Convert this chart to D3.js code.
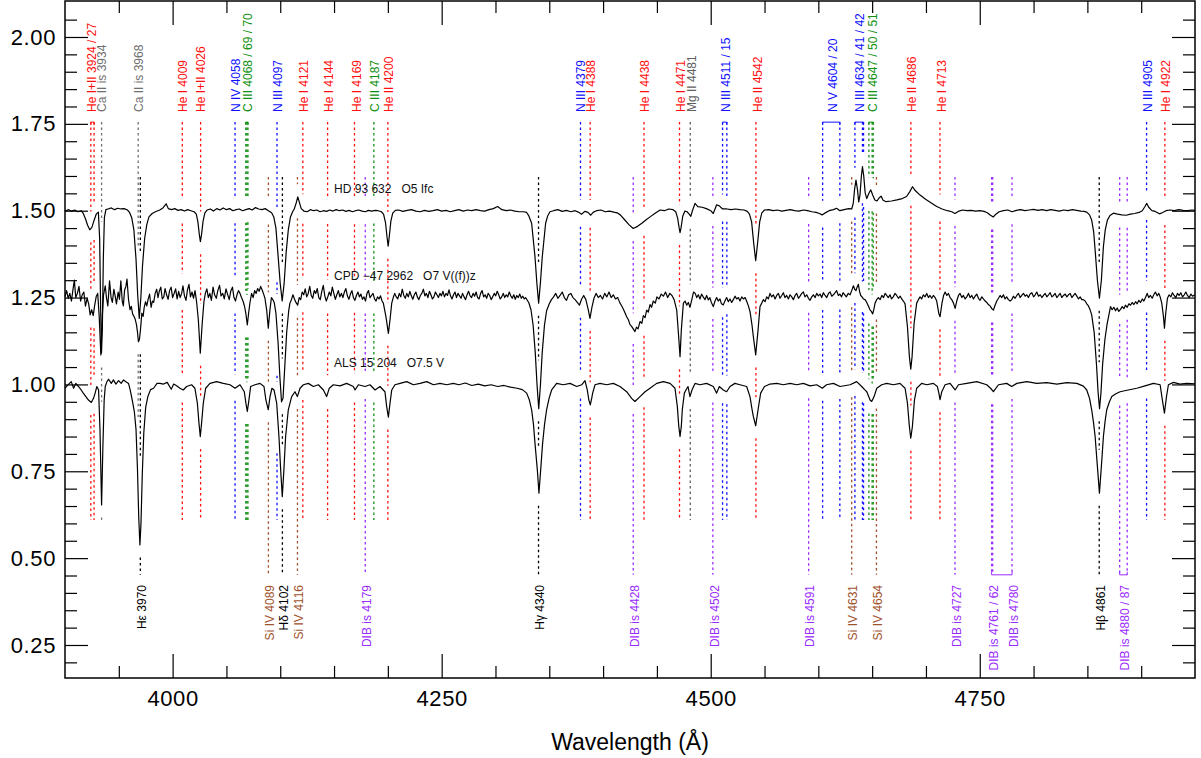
<!DOCTYPE html>
<html><head><meta charset="utf-8">
<script src="https://cdn.jsdelivr.net/npm/d3@7"></script>
<style>
html,body{margin:0;padding:0;background:#fff;}
svg{display:block;font-family:"Liberation Sans",Arial,Helvetica,sans-serif;}
</style></head><body>
<svg id="chart" width="1201" height="758"></svg>
<script>
// ---------------- DATA ----------------
const xDomain = [3900, 4950];
const yDomain = [0.155, 2.1036];
const xMajorTicks = [4000, 4250, 4500, 4750];
const xMinorTicks = [3950,4050,4100,4150,4200,4300,4350,4400,4450,4550,4600,4650,4700,4800,4850,4900];
const yMajorTicks = [0.25, 0.50, 0.75, 1.00, 1.25, 1.50, 1.75, 2.00];
const yMinorTicks = [0.20,0.30,0.35,0.40,0.45,0.55,0.60,0.65,0.70,0.80,0.85,0.90,0.95,1.05,1.10,1.15,1.20,1.30,1.35,1.40,1.45,1.55,1.60,1.65,1.70,1.80,1.85,1.90,1.95,2.05];
const xTitle = "Wavelength (\u00C5)";

const starNames = ["HD 93 632", "CPD \u221247 2962", "ALS 15 204"];
const starTypes = ["O5 Ifc", "O7 V((f))z", "O7.5 V"];
const starOffsets = [1.50, 1.25, 1.00];

const hd93632 = [[3900,1.498],[3903,1.503],[3906,1.499],[3909,1.502],[3912,1.497],[3915,1.500],[3917,1.492],[3919,1.477],[3921,1.458],[3923,1.445],[3925,1.452],[3927,1.472],[3929,1.490],[3931,1.496],[3932.2,1.42],[3933.1,1.22],[3933.9,1.09],[3934.7,1.16],[3935.6,1.36],[3936.6,1.48],[3938,1.503],[3940,1.505],[3943,1.508],[3946,1.503],[3949,1.507],[3952,1.505],[3955,1.506],[3958,1.502],[3960,1.495],[3962,1.480],[3964,1.445],[3966,1.36],[3967.5,1.26],[3969,1.19],[3970.5,1.25],[3972,1.34],[3974,1.42],[3976,1.46],[3978,1.482],[3981,1.492],[3984,1.497],[3988,1.502],[3991,1.508],[3994,1.520],[3996,1.506],[3999,1.503],[4002,1.506],[4005,1.501],[4008,1.503],[4011,1.499],[4014,1.503],[4017,1.500],[4020,1.497],[4022,1.490],[4023.5,1.468],[4024.8,1.432],[4025.8,1.411],[4026.9,1.432],[4028.3,1.470],[4030,1.494],[4032,1.502],[4035,1.505],[4038,1.499],[4041,1.506],[4044,1.502],[4047,1.508],[4050,1.503],[4053,1.506],[4056,1.500],[4059,1.503],[4062,1.505],[4065,1.500],[4068,1.503],[4071,1.506],[4074,1.502],[4077,1.509],[4080,1.505],[4083,1.503],[4086,1.506],[4089,1.500],[4092,1.494],[4094,1.482],[4096,1.450],[4098,1.37],[4100,1.29],[4101.8,1.24],[4103.6,1.29],[4105.5,1.38],[4107.5,1.445],[4109.5,1.482],[4111.5,1.497],[4113,1.505],[4114.8,1.522],[4116.3,1.540],[4117.8,1.524],[4119.5,1.506],[4122,1.499],[4125,1.497],[4128,1.503],[4131,1.500],[4134,1.502],[4137,1.497],[4140,1.500],[4143,1.498],[4146,1.502],[4149,1.499],[4152,1.503],[4155,1.500],[4158,1.502],[4161,1.498],[4164,1.501],[4167,1.497],[4170,1.500],[4173,1.502],[4176,1.499],[4179,1.497],[4182,1.501],[4185,1.499],[4188,1.501],[4191,1.500],[4194,1.497],[4196,1.490],[4197.8,1.466],[4199.2,1.425],[4200.3,1.398],[4201.4,1.428],[4202.8,1.470],[4204.5,1.493],[4207,1.501],[4210,1.502],[4214,1.498],[4218,1.501],[4222,1.503],[4226,1.499],[4230,1.497],[4234,1.501],[4238,1.498],[4242,1.500],[4246,1.503],[4250,1.499],[4254,1.501],[4258,1.497],[4262,1.500],[4266,1.503],[4270,1.499],[4274,1.502],[4278,1.500],[4282,1.503],[4286,1.500],[4290,1.499],[4294,1.503],[4298,1.506],[4302,1.512],[4306,1.503],[4310,1.500],[4314,1.502],[4318,1.499],[4322,1.497],[4326,1.497],[4329,1.495],[4331,1.485],[4333.6,1.464],[4336.7,1.368],[4338.5,1.29],[4340.1,1.234],[4341.7,1.29],[4343.5,1.368],[4346.6,1.464],[4348.5,1.485],[4350.6,1.497],[4354,1.500],[4358,1.503],[4362,1.498],[4366,1.501],[4370,1.497],[4374,1.500],[4377,1.496],[4380,1.490],[4383,1.498],[4386,1.495],[4388.5,1.487],[4391,1.496],[4394,1.500],[4398,1.502],[4402,1.497],[4406,1.499],[4410,1.496],[4413,1.494],[4416,1.488],[4420,1.474],[4424,1.460],[4428,1.449],[4432,1.455],[4436,1.464],[4440,1.474],[4444,1.483],[4448,1.492],[4453,1.502],[4457,1.500],[4461,1.505],[4465,1.503],[4467.5,1.497],[4469.3,1.478],[4470.6,1.452],[4471.5,1.437],[4472.5,1.452],[4474,1.484],[4476,1.499],[4478,1.497],[4480,1.490],[4481.5,1.484],[4483,1.500],[4485.4,1.521],[4488,1.512],[4492,1.510],[4496,1.506],[4500,1.500],[4502.4,1.492],[4505.5,1.517],[4508,1.514],[4511,1.505],[4515,1.505],[4519,1.503],[4523,1.505],[4527,1.503],[4531,1.502],[4534,1.498],[4536,1.490],[4538,1.468],[4540,1.405],[4541.8,1.356],[4543.5,1.405],[4545.5,1.468],[4547.5,1.494],[4550,1.502],[4554,1.503],[4558,1.500],[4562,1.502],[4566,1.499],[4570,1.501],[4574,1.503],[4578,1.500],[4582,1.499],[4586,1.502],[4590,1.500],[4594,1.497],[4598,1.495],[4601,1.492],[4603.5,1.488],[4606,1.493],[4610,1.500],[4614,1.503],[4617,1.507],[4620,1.500],[4624,1.503],[4628,1.506],[4631,1.505],[4632.5,1.522],[4633.7,1.562],[4635,1.588],[4636.4,1.560],[4637.5,1.525],[4638.7,1.545],[4640,1.600],[4641,1.627],[4642.2,1.600],[4643.5,1.552],[4645,1.535],[4647,1.550],[4648.7,1.560],[4650.5,1.545],[4652.5,1.531],[4654.5,1.528],[4656.5,1.537],[4658.3,1.542],[4660.2,1.530],[4663,1.526],[4668,1.528],[4673,1.531],[4678,1.535],[4682,1.541],[4685,1.555],[4687.5,1.569],[4690,1.558],[4694.5,1.545],[4700,1.532],[4705,1.522],[4710,1.512],[4715,1.505],[4720,1.500],[4724,1.497],[4727,1.492],[4730,1.498],[4734,1.502],[4738,1.500],[4742,1.501],[4746,1.499],[4750,1.500],[4754,1.498],[4757,1.494],[4760,1.487],[4762.5,1.482],[4765,1.490],[4768,1.497],[4772,1.500],[4776,1.502],[4780,1.497],[4784,1.501],[4788,1.503],[4792,1.500],[4796,1.502],[4800,1.504],[4804,1.501],[4808,1.503],[4812,1.500],[4816,1.503],[4820,1.501],[4824,1.499],[4828,1.502],[4832,1.500],[4836,1.503],[4840,1.501],[4844,1.499],[4847,1.498],[4849.4,1.496],[4852,1.488],[4854,1.473],[4855.8,1.44],[4857.2,1.387],[4859.3,1.30],[4861.2,1.248],[4863,1.30],[4864.9,1.397],[4866.6,1.445],[4868.6,1.473],[4871,1.486],[4874.2,1.493],[4878,1.490],[4882,1.488],[4886,1.487],[4890,1.490],[4894,1.492],[4898,1.495],[4901,1.500],[4903.5,1.512],[4905.2,1.521],[4907,1.510],[4910,1.500],[4913,1.498],[4917,1.491],[4920,1.495],[4923,1.500],[4927,1.502],[4931,1.500],[4935,1.503],[4939,1.501],[4943,1.500],[4947,1.502],[4950,1.501]];

const cpd472962 = [[3900,1.253],[3901.5,1.270],[3903,1.248],[3904.5,1.262],[3906,1.240],[3907.5,1.275],[3908.7,1.300],[3910,1.250],[3911.5,1.262],[3913,1.282],[3914.5,1.240],[3916,1.258],[3917.5,1.266],[3919,1.225],[3920.5,1.248],[3922,1.232],[3923.4,1.200],[3924.8,1.215],[3926.2,1.198],[3927.6,1.228],[3929,1.253],[3930.4,1.262],[3931.8,1.195],[3933.3,1.085],[3934.8,1.205],[3935.8,1.258],[3937.4,1.284],[3938.6,1.248],[3939.8,1.226],[3941.4,1.298],[3942.8,1.250],[3944,1.236],[3945.4,1.274],[3946.6,1.255],[3947.8,1.232],[3949.4,1.266],[3950.6,1.245],[3951.9,1.298],[3953.2,1.240],[3954.2,1.226],[3955.4,1.272],[3956.6,1.282],[3957.6,1.303],[3959,1.245],[3960.4,1.215],[3961.6,1.225],[3962.8,1.203],[3964,1.196],[3965.2,1.188],[3966.4,1.172],[3967.4,1.150],[3968.2,1.123],[3969.2,1.130],[3970.2,1.160],[3971.4,1.205],[3972.6,1.196],[3973.6,1.222],[3974.8,1.238],[3976,1.226],[3977.2,1.245],[3978.6,1.260],[3980,1.222],[3981.2,1.240],[3982.4,1.236],[3983.8,1.262],[3985.2,1.274],[3986.4,1.250],[3987.6,1.268],[3989,1.280],[3990.4,1.246],[3991.8,1.252],[3993,1.276],[3994.4,1.258],[3995.8,1.245],[3997.2,1.270],[3998.6,1.280],[4000,1.250],[4001.4,1.262],[4002.8,1.275],[4004.2,1.246],[4005.6,1.268],[4007,1.250],[4008.4,1.262],[4009.6,1.284],[4011,1.255],[4012.4,1.242],[4013.8,1.272],[4015.2,1.288],[4016.6,1.252],[4018,1.266],[4019.4,1.248],[4020.8,1.270],[4022.2,1.240],[4023.9,1.186],[4025.7,1.090],[4027.5,1.176],[4029.1,1.238],[4030.4,1.262],[4031.8,1.275],[4033.2,1.250],[4034.6,1.262],[4036,1.242],[4037.6,1.280],[4039,1.258],[4040.6,1.248],[4042,1.270],[4043.6,1.285],[4045,1.255],[4046.6,1.262],[4048,1.246],[4049.6,1.275],[4051,1.260],[4052.6,1.244],[4054,1.268],[4055.6,1.280],[4057,1.250],[4058.4,1.240],[4059.8,1.258],[4061.2,1.270],[4062.6,1.262],[4064,1.250],[4065.4,1.240],[4066.8,1.225],[4068,1.205],[4069.4,1.171],[4070.8,1.210],[4072,1.238],[4073.4,1.262],[4074.8,1.250],[4076.2,1.270],[4077.6,1.262],[4079,1.276],[4080.4,1.268],[4081.8,1.282],[4083.2,1.272],[4084.6,1.260],[4085.8,1.248],[4087.4,1.214],[4088.9,1.162],[4090.4,1.214],[4091.8,1.250],[4093.2,1.244],[4094.4,1.236],[4096,1.205],[4098,1.12],[4099.7,1.02],[4101.2,0.95],[4102.6,0.96],[4104.2,1.05],[4106,1.15],[4107.8,1.21],[4109,1.234],[4110.4,1.244],[4111.8,1.258],[4113.2,1.246],[4114.6,1.236],[4116.2,1.228],[4117.6,1.250],[4119,1.244],[4120.4,1.266],[4121.8,1.258],[4123.2,1.275],[4124.6,1.252],[4126,1.262],[4127.4,1.282],[4128.8,1.256],[4130.2,1.248],[4131.6,1.270],[4133,1.262],[4134.4,1.276],[4135.8,1.250],[4137.2,1.244],[4138.6,1.268],[4140,1.285],[4141.4,1.255],[4142.8,1.240],[4144.2,1.252],[4145.6,1.266],[4147,1.255],[4148.4,1.280],[4149.8,1.262],[4151.2,1.245],[4152.6,1.258],[4154,1.270],[4155.4,1.252],[4156.8,1.262],[4158.2,1.250],[4159.6,1.266],[4161,1.276],[4162.4,1.255],[4163.8,1.245],[4165.2,1.260],[4166.6,1.270],[4168,1.250],[4169.4,1.242],[4170.8,1.256],[4172.2,1.266],[4173.6,1.252],[4175,1.260],[4176.4,1.245],[4177.8,1.252],[4179.2,1.240],[4180.6,1.262],[4182,1.270],[4183.4,1.250],[4184.8,1.256],[4186.2,1.262],[4187.6,1.246],[4189,1.240],[4190.4,1.252],[4191.8,1.246],[4193.2,1.255],[4194.6,1.240],[4195.8,1.234],[4198.2,1.195],[4200.5,1.147],[4202,1.186],[4203.6,1.234],[4205,1.250],[4206.4,1.262],[4207.8,1.252],[4209.2,1.246],[4210.6,1.262],[4212,1.252],[4213.4,1.274],[4214.8,1.256],[4216.2,1.248],[4217.6,1.262],[4219,1.252],[4220.4,1.268],[4221.8,1.255],[4223.2,1.245],[4224.6,1.258],[4226,1.266],[4227.4,1.252],[4228.8,1.244],[4230.2,1.256],[4231.6,1.262],[4233,1.274],[4234.4,1.255],[4235.8,1.262],[4237.2,1.250],[4238.6,1.268],[4240,1.258],[4241.4,1.246],[4242.8,1.252],[4244.2,1.266],[4245.6,1.258],[4247,1.250],[4248.4,1.262],[4249.8,1.255],[4251.2,1.268],[4252.6,1.252],[4254,1.262],[4255.4,1.256],[4256.8,1.272],[4258.2,1.255],[4259.6,1.246],[4261,1.258],[4262.4,1.266],[4263.8,1.250],[4265.2,1.262],[4266.6,1.255],[4268,1.248],[4269.4,1.262],[4270.8,1.252],[4272.2,1.244],[4273.6,1.258],[4275,1.268],[4276.4,1.255],[4277.8,1.250],[4279.2,1.262],[4280.6,1.254],[4282,1.266],[4283.4,1.250],[4284.8,1.246],[4286.2,1.262],[4287.6,1.270],[4289,1.252],[4290.4,1.258],[4291.8,1.248],[4293.2,1.262],[4294.6,1.256],[4296,1.244],[4297.4,1.252],[4298.8,1.262],[4300.2,1.255],[4301.6,1.268],[4303,1.258],[4304.4,1.246],[4305.8,1.252],[4307.2,1.262],[4308.6,1.250],[4310,1.258],[4311.4,1.252],[4312.8,1.266],[4314.2,1.255],[4315.6,1.248],[4317,1.258],[4318.4,1.245],[4319.8,1.256],[4321.2,1.250],[4322.6,1.260],[4324,1.248],[4325.4,1.254],[4326.8,1.246],[4328,1.250],[4329,1.245],[4331,1.235],[4333,1.215],[4335,1.170],[4337,1.090],[4338.6,1.000],[4340.2,0.930],[4341.8,1.000],[4343.4,1.090],[4345.5,1.170],[4347.5,1.212],[4350,1.232],[4352,1.244],[4354,1.252],[4356,1.262],[4358,1.248],[4360,1.256],[4362,1.266],[4364,1.250],[4366,1.242],[4368,1.258],[4370,1.262],[4372,1.250],[4374,1.244],[4376,1.236],[4378,1.228],[4380,1.245],[4382,1.256],[4384,1.244],[4386.2,1.215],[4387.8,1.190],[4389.5,1.220],[4391.5,1.248],[4393.5,1.262],[4395.5,1.250],[4397.5,1.256],[4399.5,1.246],[4401.5,1.262],[4403.5,1.252],[4405.5,1.266],[4407.5,1.250],[4409.5,1.258],[4411.5,1.246],[4413.5,1.250],[4415.7,1.234],[4417.5,1.225],[4419.5,1.212],[4421.9,1.195],[4423.5,1.186],[4425,1.172],[4426.5,1.167],[4428,1.160],[4429.6,1.152],[4431,1.165],[4432.5,1.160],[4434.3,1.181],[4436,1.176],[4437.4,1.198],[4439,1.192],[4440.5,1.214],[4442,1.208],[4443.6,1.230],[4445,1.222],[4446.7,1.240],[4448.5,1.234],[4450,1.252],[4452,1.246],[4454,1.260],[4456,1.254],[4458,1.266],[4460,1.250],[4462,1.262],[4464,1.256],[4466,1.244],[4468.4,1.214],[4470.2,1.138],[4471.5,1.080],[4472.7,1.157],[4474.6,1.234],[4476.2,1.240],[4477.7,1.228],[4479.2,1.236],[4480.7,1.222],[4482.5,1.245],[4484,1.266],[4485.6,1.262],[4487,1.250],[4488.5,1.258],[4490,1.246],[4491.5,1.260],[4493,1.252],[4494.7,1.244],[4496.2,1.256],[4497.8,1.243],[4499.2,1.250],[4500.6,1.236],[4502.4,1.224],[4504,1.240],[4505.5,1.250],[4507,1.240],[4508.6,1.246],[4510,1.232],[4511.7,1.229],[4513.2,1.240],[4514.8,1.250],[4516.4,1.238],[4517.9,1.246],[4519.5,1.236],[4521,1.244],[4522.6,1.254],[4524.1,1.246],[4525.7,1.250],[4527.2,1.240],[4528.8,1.252],[4530.3,1.246],[4532,1.250],[4533.6,1.238],[4535,1.226],[4536.5,1.210],[4538.4,1.170],[4539.6,1.138],[4541.8,1.085],[4544,1.157],[4545.8,1.224],[4547.4,1.234],[4548.9,1.244],[4550.5,1.238],[4552,1.252],[4553.6,1.246],[4555.1,1.262],[4556.6,1.252],[4558.2,1.258],[4559.8,1.246],[4561.3,1.256],[4562.9,1.262],[4564.4,1.248],[4566,1.256],[4567.5,1.264],[4569,1.250],[4570.6,1.256],[4572.2,1.246],[4573.7,1.258],[4575.3,1.252],[4576.8,1.244],[4578.4,1.256],[4579.9,1.262],[4581.5,1.248],[4583,1.254],[4584.6,1.262],[4586.1,1.266],[4587.6,1.252],[4589.2,1.258],[4590.8,1.248],[4592.3,1.242],[4593.9,1.252],[4595.4,1.258],[4597,1.250],[4598.5,1.262],[4600,1.255],[4601.6,1.260],[4603.1,1.250],[4604.7,1.264],[4606.3,1.256],[4607.8,1.250],[4609.4,1.262],[4610.9,1.266],[4612.5,1.254],[4614,1.258],[4615.6,1.264],[4617,1.270],[4618.6,1.256],[4620,1.260],[4621.6,1.252],[4623,1.264],[4624.6,1.258],[4626,1.252],[4627.8,1.262],[4629.5,1.258],[4631,1.270],[4632.6,1.284],[4633.8,1.274],[4635,1.270],[4636,1.280],[4637.2,1.288],[4638.4,1.266],[4639.4,1.256],[4640.6,1.252],[4641.9,1.246],[4643.4,1.244],[4645,1.236],[4646.5,1.226],[4648.1,1.214],[4649.3,1.210],[4650.5,1.203],[4651.6,1.216],[4652.7,1.234],[4654.2,1.244],[4655.8,1.250],[4657.4,1.244],[4659,1.256],[4660.6,1.250],[4662,1.262],[4663.5,1.256],[4665,1.250],[4666.6,1.258],[4668,1.246],[4669.6,1.252],[4671.2,1.262],[4672.8,1.256],[4674.4,1.248],[4676,1.254],[4677.5,1.246],[4679,1.240],[4680.6,1.232],[4682.8,1.166],[4684.6,1.080],[4685.9,1.044],[4687.1,1.080],[4689,1.176],[4691.4,1.234],[4693,1.244],[4694.5,1.252],[4696,1.246],[4697.6,1.258],[4699.2,1.252],[4700.7,1.262],[4702.3,1.250],[4703.8,1.256],[4705.4,1.248],[4706.9,1.256],[4708.5,1.250],[4710,1.240],[4711.9,1.205],[4713.1,1.195],[4714.9,1.234],[4716.4,1.256],[4717.8,1.266],[4719.4,1.256],[4720.9,1.262],[4722.4,1.250],[4724,1.244],[4725.6,1.234],[4727.1,1.219],[4728.6,1.240],[4730.2,1.256],[4731.7,1.262],[4733.3,1.250],[4734.8,1.256],[4736.4,1.246],[4737.9,1.252],[4739.5,1.262],[4741,1.250],[4742.6,1.256],[4744.1,1.246],[4745.7,1.254],[4747.2,1.260],[4748.8,1.248],[4750.3,1.242],[4751.9,1.252],[4753.4,1.246],[4755,1.240],[4756.5,1.236],[4758,1.230],[4759.6,1.226],[4761.2,1.218],[4762.7,1.214],[4764.2,1.228],[4765.8,1.240],[4767.4,1.248],[4768.9,1.256],[4770.4,1.250],[4772,1.258],[4773.5,1.246],[4775,1.252],[4776.6,1.244],[4778.2,1.240],[4779.7,1.244],[4781.2,1.254],[4782.8,1.248],[4784.4,1.256],[4786,1.262],[4787.5,1.250],[4789,1.256],[4790.6,1.262],[4792.2,1.254],[4793.7,1.258],[4795.2,1.250],[4796.8,1.260],[4798.4,1.264],[4800,1.252],[4801.5,1.258],[4803,1.266],[4804.6,1.254],[4806.2,1.258],[4807.7,1.250],[4809.2,1.256],[4810.8,1.262],[4812.3,1.252],[4813.9,1.258],[4815.4,1.264],[4817,1.252],[4818.5,1.256],[4820,1.262],[4821.6,1.250],[4823.2,1.256],[4824.7,1.262],[4826.2,1.250],[4827.8,1.256],[4829.4,1.260],[4830.9,1.252],[4832.4,1.258],[4834,1.262],[4835.6,1.250],[4837.1,1.256],[4838.6,1.262],[4840.2,1.254],[4841.8,1.246],[4843.3,1.252],[4844.8,1.244],[4846.3,1.244],[4847.9,1.240],[4849.4,1.232],[4851,1.226],[4852.6,1.214],[4854,1.200],[4856.3,1.150],[4858.4,1.060],[4860,0.975],[4861.3,0.930],[4862.6,0.975],[4864.2,1.060],[4866.3,1.130],[4868.4,1.175],[4870,1.200],[4871.5,1.224],[4873,1.215],[4874.6,1.222],[4876.2,1.212],[4877.7,1.220],[4879.2,1.210],[4880.8,1.216],[4882.4,1.224],[4883.9,1.218],[4885.4,1.228],[4887,1.222],[4888.6,1.232],[4890.1,1.228],[4891.6,1.236],[4893.2,1.230],[4894.8,1.238],[4896.3,1.232],[4897.8,1.242],[4899.4,1.236],[4901,1.246],[4902.5,1.240],[4904,1.250],[4905.6,1.262],[4907,1.250],[4908.6,1.256],[4910.2,1.248],[4911.7,1.258],[4913.2,1.266],[4914.8,1.255],[4916.4,1.262],[4917.8,1.250],[4919.1,1.234],[4920.7,1.195],[4921.6,1.162],[4922.8,1.205],[4924.4,1.248],[4926,1.258],[4927.6,1.252],[4929,1.264],[4930.6,1.256],[4932.2,1.250],[4933.7,1.262],[4935.2,1.256],[4936.8,1.264],[4938.4,1.252],[4940,1.258],[4941.5,1.266],[4943,1.256],[4944.6,1.250],[4946.2,1.260],[4947.7,1.254],[4950,1.258]];

const als15204 = [[3900,0.989],[3902.5,0.998],[3905.8,1.008],[3908,0.989],[3910,1.003],[3912.6,0.994],[3915,0.984],[3917,0.975],[3919.4,0.965],[3921.8,0.955],[3924.4,0.948],[3926.5,0.960],[3928,0.975],[3929.6,0.994],[3931.2,0.984],[3932.5,0.870],[3934,0.653],[3935.2,0.820],[3936.4,0.955],[3937.4,0.994],[3939,1.008],[3940.5,1.015],[3943,1.003],[3945,1.013],[3947.3,1.001],[3949.8,1.011],[3952.2,1.003],[3954.4,1.013],[3956.6,1.008],[3959,1.003],[3960.5,0.985],[3962.5,0.955],[3964.5,0.920],[3966,0.870],[3967.3,0.760],[3968.5,0.620],[3969.6,0.538],[3970.6,0.600],[3971.8,0.740],[3973.2,0.860],[3975,0.935],[3977,0.965],[3979.5,0.985],[3982.3,0.989],[3985.5,1.003],[3988.2,1.003],[3991.6,1.001],[3995,1.006],[3998.7,0.986],[4001,1.001],[4003.7,0.996],[4006.8,0.989],[4009.9,0.984],[4013,0.994],[4017.6,0.999],[4020.7,0.989],[4023,0.946],[4024.5,0.888],[4025.7,0.850],[4026.9,0.888],[4028.5,0.946],[4030.7,0.989],[4034.7,1.003],[4040.9,1.008],[4047.1,1.003],[4053.3,0.999],[4058,0.989],[4062.6,0.999],[4066.6,0.979],[4068.1,0.946],[4069.4,0.922],[4070.9,0.955],[4072.5,0.994],[4076.5,0.999],[4081.2,1.003],[4084.9,0.994],[4086.7,0.955],[4088.9,0.927],[4090.5,0.965],[4092.3,0.989],[4094.2,0.984],[4096.7,0.946],[4098.8,0.850],[4100.4,0.754],[4101.9,0.677],[4103.4,0.754],[4105,0.850],[4107.5,0.927],[4110.6,0.965],[4113.7,0.979],[4115.9,0.965],[4118.4,0.989],[4121.5,0.999],[4126.1,1.003],[4130.8,0.994],[4135.4,0.999],[4140.1,0.984],[4143.1,0.965],[4145.6,0.989],[4149.3,0.999],[4155.5,0.996],[4161.7,1.003],[4167.9,0.994],[4169.5,0.984],[4172.6,0.999],[4178.8,0.994],[4183.4,0.999],[4188.1,0.984],[4192.7,0.994],[4197.3,0.979],[4198.9,0.936],[4200.5,0.906],[4202,0.946],[4203.6,0.984],[4206.6,0.999],[4211.3,1.003],[4217.5,1.008],[4223.7,0.999],[4229.9,1.003],[4236.1,1.008],[4242.3,0.999],[4248.5,1.003],[4254.7,0.999],[4260.8,1.003],[4266,0.999],[4272,1.004],[4278,0.997],[4284,1.001],[4290,0.996],[4296,0.999],[4302,0.994],[4308,0.997],[4314,0.992],[4320,0.989],[4325,0.985],[4329,0.975],[4331.5,0.955],[4333.6,0.927],[4335.3,0.885],[4336.7,0.831],[4338.9,0.754],[4340.4,0.687],[4342,0.754],[4343.8,0.831],[4345.6,0.885],[4347.5,0.927],[4349.8,0.960],[4352.2,0.984],[4356.8,1.003],[4363,0.999],[4369.3,1.003],[4375.5,0.994],[4380.1,0.999],[4383.2,1.011],[4385.3,0.984],[4386.8,0.955],[4388.1,0.941],[4389.4,0.960],[4390.3,0.975],[4392.5,0.999],[4397.1,1.003],[4403.3,0.999],[4409.5,1.003],[4415.7,0.994],[4421.9,0.979],[4426.5,0.960],[4429.6,0.951],[4434.3,0.965],[4439,0.979],[4443.6,0.989],[4449.8,1.003],[4456,1.008],[4462.2,1.003],[4466.8,0.989],[4469,0.936],[4470.3,0.880],[4471.5,0.850],[4472.7,0.880],[4473.6,0.927],[4475.5,0.975],[4477,0.984],[4478.9,0.994],[4480.7,0.965],[4482.6,0.984],[4485.4,1.003],[4490,0.999],[4496.2,1.003],[4502.4,0.994],[4505.5,0.975],[4508,0.994],[4511.7,0.984],[4514.8,0.979],[4517.9,0.994],[4522.5,1.003],[4527.2,0.999],[4533.4,0.994],[4536.5,0.965],[4538.3,0.930],[4539.6,0.908],[4541.8,0.881],[4544,0.927],[4546.4,0.975],[4550,0.994],[4555.1,1.001],[4561.3,1.003],[4567.5,0.999],[4573.7,1.003],[4579.9,0.999],[4586.1,1.003],[4592.3,0.996],[4598.5,0.999],[4603.7,0.989],[4607.6,0.999],[4614,1.003],[4620.2,0.994],[4629.5,0.999],[4635.6,1.008],[4640.3,0.994],[4643,0.985],[4645,0.979],[4648.1,0.955],[4649.6,0.951],[4651.8,0.965],[4654.3,0.989],[4658.9,0.999],[4663.5,1.003],[4669.8,0.999],[4675.9,1.003],[4680.6,0.989],[4682.8,0.946],[4684.6,0.879],[4685.9,0.845],[4687.4,0.879],[4689.3,0.955],[4691.4,0.989],[4696,1.003],[4700.7,0.999],[4706.9,1.003],[4710.6,0.994],[4712,0.975],[4713.1,0.956],[4714.7,0.979],[4717.8,0.999],[4722.4,1.003],[4727.1,0.984],[4730.2,0.999],[4737.9,1.003],[4747.2,1.008],[4756.5,0.999],[4760,0.989],[4762.7,0.979],[4767.4,0.999],[4775,1.003],[4779.7,0.994],[4784.4,1.003],[4793.7,1.008],[4803,1.003],[4812.3,1.005],[4821.6,1.001],[4830.9,1.005],[4840.2,1.003],[4846.3,0.995],[4849.4,0.984],[4852,0.960],[4854,0.927],[4855.7,0.890],[4857.2,0.850],[4859.3,0.764],[4861.2,0.687],[4863,0.764],[4864.9,0.850],[4866.5,0.895],[4868,0.927],[4870.5,0.950],[4872.7,0.965],[4876.5,0.973],[4880.4,0.979],[4888,0.984],[4895.9,0.989],[4903.6,0.996],[4911.4,1.003],[4917.6,0.999],[4919.7,0.955],[4921.6,0.917],[4923.5,0.965],[4925.3,0.999],[4930,1.006],[4936,1.001],[4942,1.003],[4950,1.002]];

// line identifications: [wavelength, element]
const upperLines = [[3924,"He"],[3927,"He"],[3934,"Ca"],[3968,"Ca"],[4009,"He"],[4026,"He"],[4058,"N"],[4068,"C"],[4069,"C"],[4070,"C"],[4097,"N"],[4121,"He"],[4144,"He"],[4169,"He"],[4187,"C"],[4200,"He"],[4379,"N"],[4388,"He"],[4438,"He"],[4471,"He"],[4481,"Mg"],[4511,"N"],[4515,"N"],[4542,"He"],[4604,"N"],[4620,"N"],[4634,"N"],[4641,"N"],[4642,"N"],[4647,"C"],[4650,"C"],[4651,"C"],[4686,"He"],[4713,"He"],[4905,"N"],[4922,"He"]];
const lowerLines = [[3970,"H"],[4089,"Si"],[4102,"H"],[4116,"Si"],[4179,"DIB"],[4340,"H"],[4428,"DIB"],[4502,"DIB"],[4591,"DIB"],[4631,"Si"],[4654,"Si"],[4727,"DIB"],[4761,"DIB"],[4762,"DIB"],[4780,"DIB"],[4861,"H"],[4880,"DIB"],[4887,"DIB"]];
const upperGroups = [[3924,3927],[4068,4070],[4511,4515],[4604,4620],[4634,4642],[4647,4651]];
const lowerGroups = [[4761,4780],[4880,4887]];

// labels: [text, wavelength position, element]
const upperLabels = [["He I+II 3924 / 27",3924.8,"He"],["Ca II is 3934",3934,"Ca"],["Ca II is 3968",3968.5,"Ca"],["He I 4009",4009.5,"He"],["He I+II 4026",4026.3,"He"],["N IV 4058",4058.8,"N"],["C III 4068 / 69 / 70",4070,"C"],["N III 4097",4097.9,"N"],["He I 4121",4121.6,"He"],["He I 4144",4145.3,"He"],["He I 4169",4171.3,"He"],["C III 4187",4188,"C"],["He II 4200",4201,"He"],["N III 4379",4379.5,"N"],["He I 4388",4388.8,"He"],["He I 4438",4438.5,"He"],["He I 4471",4471.9,"He"],["Mg II 4481",4482.2,"Mg"],["N III 4511 / 15",4513.9,"N"],["He II 4542",4544,"He"],["N V 4604 / 20",4613.7,"N"],["N III 4634 / 41 / 42",4638.8,"N"],["C III 4647 / 50 / 51",4650.8,"C"],["He II 4686",4687.1,"He"],["He I 4713",4714.7,"He"],["N III 4905",4906.1,"N"],["He I 4922",4923.1,"He"]];
const lowerLabels = [["H\u03B5 3970",3971.5,"H"],["Si IV 4089",4090,"Si"],["H\u03B4 4102",4103.5,"H"],["Si IV 4116",4117.5,"Si"],["DIB is 4179",4180.6,"DIB"],["H\u03B3 4340",4341.4,"H"],["DIB is 4428",4429.6,"DIB"],["DIB is 4502",4503.7,"DIB"],["DIB is 4591",4592.5,"DIB"],["Si IV 4631",4632,"Si"],["Si IV 4654",4654.8,"Si"],["DIB is 4727",4728.7,"DIB"],["DIB is 4761 / 62",4762.7,"DIB"],["DIB is 4780",4781.3,"DIB"],["H\u03B2 4861",4862.7,"H"],["DIB is 4880 / 87",4884.6,"DIB"]];

// ---------------- STYLE / LAYOUT ----------------
const colors = {He:"#ff1010", N:"#1010ff", C:"#109010", Ca:"#707070", Mg:"#606060", H:"#000000", Si:"#a0522d", DIB:"#9a2cff"};
const L = {left:65, right:1195, top:1, bottom:678};
const markUp = {top:1.755, bot:0.61};
const markLo = {top:1.597, bot:0.452};
const gapPad = 0.036, gapWin = 2.0;

const svg = d3.select("#chart");
const x = d3.scaleLinear().domain(xDomain).range([L.left, L.right]);
const y = d3.scaleLinear().domain(yDomain).range([L.bottom, L.top]);

const spectra = [hd93632, cpd472962, als15204];

function interp(spec, l){
  const i = d3.bisector(d=>d[0]).left(spec, l);
  if (i<=0) return spec[0][1];
  if (i>=spec.length) return spec[spec.length-1][1];
  const a=spec[i-1], b=spec[i];
  return a[1] + (l-a[0])/(b[0]-a[0])*(b[1]-a[1]);
}
function localExtent(spec, l, w){
  const vals=[interp(spec,l-w), interp(spec,l), interp(spec,l+w)];
  spec.forEach(d=>{ if (d[0]>l-w && d[0]<l+w) vals.push(d[1]); });
  return d3.extent(vals);
}
function segments(l, vTop, vBot){
  let segs=[[vBot, vTop]];
  spectra.forEach(s=>{
    const [lo,hi]=localExtent(s,l,gapWin);
    const g0=lo-gapPad, g1=hi+gapPad;
    const out=[];
    segs.forEach(([a,b])=>{
      if (g1<=a || g0>=b){ out.push([a,b]); return; }
      if (g0>a) out.push([a,g0]);
      if (g1<b) out.push([g1,b]);
    });
    segs=out;
  });
  return segs.filter(([a,b])=>b-a>0.004);
}

// markers
const gMark = svg.append("g");
function drawMarkers(lines, lim){
  lines.forEach(([l,el])=>{
    segments(l, lim.top, lim.bot).forEach(([a,b])=>{
      gMark.append("line").attr("x1",x(l)).attr("x2",x(l))
        .attr("y1",y(b)).attr("y2",y(a))
        .attr("stroke",colors[el]).attr("stroke-width",1.3)
        .attr("stroke-dasharray","2.5,3");
    });
  });
}
drawMarkers(upperLines, markUp);
drawMarkers(lowerLines, markLo);

function elOf(l, lines){ const f = lines.find(d=>d[0]===l); return f ? f[1] : "H"; }
upperGroups.forEach(([a,b])=>{
  const yy=y(markUp.top);
  gMark.append("path").attr("d",`M${x(a)},${yy+3}V${yy}H${x(b)}V${yy+3}`)
    .attr("fill","none").attr("stroke",colors[elOf(a,upperLines)]).attr("stroke-width",1);
});
lowerGroups.forEach(([a,b])=>{
  const yy=y(markLo.bot);
  gMark.append("path").attr("d",`M${x(a)},${yy-3}V${yy}H${x(b)}V${yy-3}`)
    .attr("fill","none").attr("stroke",colors[elOf(a,lowerLines)]).attr("stroke-width",1);
});

// spectra
const line = d3.line().x(d=>x(d[0])).y(d=>y(d[1]));
svg.append("g").selectAll("path").data(spectra).join("path")
  .attr("d", line).attr("fill","none").attr("stroke","#000")
  .attr("stroke-width",1.2).attr("stroke-linejoin","round");

// labels
svg.append("g").selectAll("text").data(upperLabels).join("text")
  .attr("transform", d=>`translate(${x(d[1])},112) rotate(-90)`)
  .attr("dy","0.35em").attr("text-anchor","start")
  .attr("font-size",12).attr("fill", d=>colors[d[2]]).text(d=>d[0]);
svg.append("g").selectAll("text").data(lowerLabels).join("text")
  .attr("transform", d=>`translate(${x(d[1])},585) rotate(-90)`)
  .attr("dy","0.35em").attr("text-anchor","end")
  .attr("font-size",12).attr("fill", d=>colors[d[2]]).text(d=>d[0]);

// star labels
starNames.forEach((n,i)=>{
  svg.append("text").attr("x", x(4150)).attr("y", y(starOffsets[i]+0.05))
    .attr("font-size",12).attr("fill","#111")
    .text(n + "\u00a0\u00a0\u00a0" + starTypes[i]);
});

// axes
function styleAxis(g){ g.select(".domain").remove(); g.selectAll(".tick line").attr("stroke","#000").attr("stroke-width",1.2); }
const tickFont = g=>g.selectAll("text").attr("font-size",22).attr("letter-spacing","0.6px")
  .attr("font-family","Liberation Sans, Arial, sans-serif").attr("fill","#000");
svg.append("g").attr("transform",`translate(0,${L.bottom})`)
  .call(d3.axisBottom(x).tickValues(xMajorTicks).tickSize(-24).tickPadding(12).tickFormat(d3.format("d")))
  .call(styleAxis).call(tickFont);
svg.append("g").attr("transform",`translate(0,${L.bottom})`)
  .call(d3.axisBottom(x).tickValues(xMinorTicks).tickSize(-12).tickFormat("")).call(styleAxis);
svg.append("g").attr("transform",`translate(0,${L.top})`)
  .call(d3.axisTop(x).tickValues(xMajorTicks).tickSize(-24).tickFormat("")).call(styleAxis);
svg.append("g").attr("transform",`translate(0,${L.top})`)
  .call(d3.axisTop(x).tickValues(xMinorTicks).tickSize(-12).tickFormat("")).call(styleAxis);
svg.append("g").attr("transform",`translate(${L.left},0)`)
  .call(d3.axisLeft(y).tickValues(yMajorTicks).tickSize(-23).tickPadding(9).tickFormat(d3.format(".2f")))
  .call(styleAxis).call(tickFont);
svg.append("g").attr("transform",`translate(${L.left},0)`)
  .call(d3.axisLeft(y).tickValues(yMinorTicks).tickSize(-12).tickFormat("")).call(styleAxis);
svg.append("g").attr("transform",`translate(${L.right},0)`)
  .call(d3.axisRight(y).tickValues(yMajorTicks).tickSize(-23).tickFormat("")).call(styleAxis);
svg.append("g").attr("transform",`translate(${L.right},0)`)
  .call(d3.axisRight(y).tickValues(yMinorTicks).tickSize(-12).tickFormat("")).call(styleAxis);

// frame
svg.append("rect").attr("x",L.left).attr("y",L.top).attr("width",L.right-L.left).attr("height",L.bottom-L.top)
  .attr("fill","none").attr("stroke","#000").attr("stroke-width",1.5);

// axis title
svg.append("text").attr("x",(L.left+L.right)/2).attr("y",750).attr("text-anchor","middle")
  .attr("font-size",23).attr("fill","#000").text(xTitle);
</script>
</body></html>
